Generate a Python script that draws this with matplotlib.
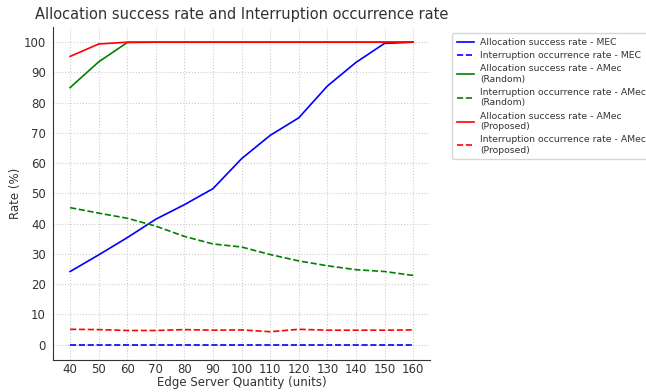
import numpy as np
import matplotlib
matplotlib.use("Agg")
import matplotlib.pyplot as plt

servers = [40, 50, 60, 70, 80, 90, 100, 110, 120, 130, 140, 150, 160]

mec_success = [24.2, 29.7, 35.4, 41.5, 46.3, 51.6, 61.5, 69.2, 75.0, 85.5, 93.3, 99.6, 100.0]
mec_interrupt = [0, 0, 0, 0, 0, 0, 0, 0, 0, 0, 0, 0, 0]
random_success = [85.0, 93.5, 99.9, 100, 100, 100, 100, 100, 100, 100, 100, 100, 100]
random_interrupt = [45.3, 43.5, 41.8, 39.2, 35.8, 33.3, 32.3, 29.8, 27.7, 26.1, 24.8, 24.2, 22.9]
proposed_success = [95.3, 99.4, 100, 100, 100, 100, 100, 100, 100, 100, 100, 100, 100]
proposed_interrupt = [5.1, 5.0, 4.7, 4.7, 5.0, 4.8, 4.9, 4.3, 5.1, 4.8, 4.8, 4.8, 4.9]

fig = plt.figure(figsize=(6.46, 3.92), dpi=100)
fig.patch.set_facecolor('white')
ax = fig.add_axes([0.082, 0.082, 0.584, 0.849])

ax.plot(servers, mec_success, color='blue', lw=1.2, label='Allocation success rate - MEC')
ax.plot(servers, mec_interrupt, color='blue', lw=1.2, ls='--', label='Interruption occurrence rate - MEC')
ax.plot(servers, random_success, color='green', lw=1.2, label='Allocation success rate - AMec\n(Random)')
ax.plot(servers, random_interrupt, color='green', lw=1.2, ls='--', label='Interruption occurrence rate - AMec\n(Random)')
ax.plot(servers, proposed_success, color='red', lw=1.2, label='Allocation success rate - AMec\n(Proposed)')
ax.plot(servers, proposed_interrupt, color='red', lw=1.2, ls='--', label='Interruption occurrence rate - AMec\n(Proposed)')

ax.set_xlim(34, 166)
ax.set_ylim(-5, 105)
ax.set_xticks(servers)
ax.set_yticks(range(0, 101, 10))
ax.tick_params(axis='x', labelsize=8.5, colors='#333333', length=0, pad=2)
ax.tick_params(axis='y', labelsize=8.5, colors='#333333', length=0, pad=5)
ax.grid(True, ls=':', color='#cccccc', lw=0.8)
for s in ['top', 'right']:
    ax.spines[s].set_visible(False)
for s in ['left', 'bottom']:
    ax.spines[s].set_color('#333333')
    ax.spines[s].set_linewidth(0.8)

ax.set_title('Allocation success rate and Interruption occurrence rate', fontsize=10.5, color='#333333', pad=6)
ax.set_xlabel('Edge Server Quantity (units)', fontsize=8.5, color='#333333', labelpad=0)
ax.set_ylabel('Rate (%)', fontsize=8.5, color='#333333', labelpad=1)

leg = ax.legend(loc='upper left', bbox_to_anchor=(1.045, 0.995), fontsize=6.7, frameon=True,
                labelspacing=0.45, handlelength=1.9, handletextpad=0.6, borderpad=0.5)
leg.get_frame().set_edgecolor('#cccccc')
for t in leg.get_texts():
    t.set_color('#333333')

fig.savefig('out.png', dpi=100)
